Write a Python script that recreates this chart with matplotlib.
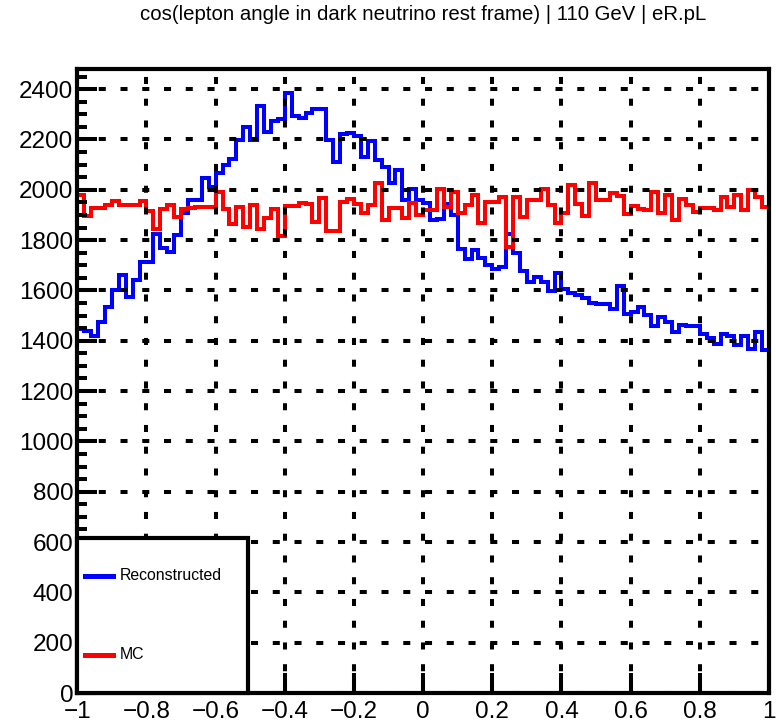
import matplotlib
matplotlib.use('Agg')
import matplotlib.pyplot as plt
import numpy as np
from matplotlib.ticker import MultipleLocator, FuncFormatter
from matplotlib.patches import Rectangle
from matplotlib.lines import Line2D

plt.rcParams['font.family'] = ['Liberation Sans', 'DejaVu Sans']

titulo = 'cos(lepton angle in dark neutrino rest frame) | 110 GeV | eR.pL'
etiquetas = ['Reconstructed', 'MC']

# 100 bins entre -1 y 1
bordes = np.linspace(-1, 1, 101)

reconstruido = [
    1445, 1440, 1420, 1476, 1536, 1602, 1661, 1575, 1642, 1714,
    1714, 1826, 1767, 1754, 1820, 1906, 1959, 1959, 2048, 2010,
    2068, 2098, 2124, 2197, 2250, 2197, 2332, 2230, 2273, 2280,
    2383, 2293, 2285, 2305, 2323, 2323, 2197, 2112, 2220, 2226,
    2213, 2131, 2193, 2117, 2090, 2028, 2078, 1959, 2005, 1959,
    1948, 1879, 1885, 1945, 1899, 1763, 1724, 1760, 1727, 1700,
    1687, 1694, 1826, 1750, 1678, 1634, 1654, 1634, 1598, 1670,
    1607, 1588, 1580, 1570, 1550, 1548, 1548, 1525, 1617, 1505,
    1515, 1535, 1502, 1460, 1495, 1475, 1436, 1462, 1458, 1458,
    1425, 1409, 1389, 1427, 1418, 1384, 1418, 1366, 1436, 1365,
]

mc = [
    1978, 1895, 1928, 1928, 1938, 1955, 1938, 1940, 1938, 1955,
    1915, 1843, 1925, 1940, 1890, 1922, 1928, 1930, 1930, 1930,
    1992, 1922, 1862, 1932, 1853, 1939, 1846, 1886, 1922, 1815,
    1935, 1935, 1946, 1945, 1870, 1967, 1838, 1838, 1950, 1962,
    1945, 1906, 1939, 2025, 1880, 1926, 1926, 1886, 1948, 1899,
    1919, 1919, 2005, 1932, 1992, 1906, 1939, 1979, 1866, 1952,
    1952, 1972, 1773, 1972, 1893, 1959, 1959, 2005, 1939, 1866,
    1909, 2019, 1945, 1895, 2025, 1959, 1959, 1988, 1975, 1903,
    1935, 1922, 1919, 1992, 1906, 1979, 1879, 1965, 1939, 1912,
    1926, 1926, 1919, 1972, 1932, 1979, 1919, 1999, 1972, 1932,
]

azul = '#0000ff'
rojo = '#ff0000'


def formato_eje(v, pos):
    return ('%g' % round(v, 2)).replace('-', '\u2212')


fig = plt.figure(figsize=(7.76, 7.23), dpi=100)
ax = fig.add_axes([77.3 / 776, 1 - 693 / 723, (769 - 77.3) / 776, (693 - 69) / 723])

ax.stairs(reconstruido, bordes, color=azul, linewidth=2.9, baseline=None, zorder=2)
ax.stairs(mc, bordes, color=rojo, linewidth=2.9, baseline=None, zorder=2.1)

ax.set_xlim(-1, 1)
ax.set_ylim(0, 2480)

ax.xaxis.set_major_locator(MultipleLocator(0.2))
ax.yaxis.set_major_locator(MultipleLocator(200))
ax.yaxis.set_minor_locator(MultipleLocator(50))
ax.xaxis.set_major_formatter(FuncFormatter(formato_eje))
ax.yaxis.set_major_formatter(FuncFormatter(formato_eje))

ax.tick_params(axis='both', which='both', direction='in', labelsize=17.5, width=2.9)
ax.tick_params(axis='y', which='major', length=14.5, pad=3)
ax.tick_params(axis='y', which='minor', length=7.2)
ax.tick_params(axis='x', which='major', length=14.5, pad=6)

for lado in ax.spines.values():
    lado.set_linewidth(3)

# rejilla de puntos gruesos
ax.set_axisbelow(False)
ax.grid(True, which='major', color='black', linewidth=2.9, linestyle=(0, (1.75, 3.65)))

# leyenda con caja propia
ax.add_patch(Rectangle((0, 0), 0.247, 0.248, transform=ax.transAxes,
                       facecolor='white', edgecolor='black', linewidth=3, zorder=5, clip_on=False))
for col, ypos, txt in [(azul, 0.1875, etiquetas[0]), (rojo, 0.061, etiquetas[1])]:
    ax.add_line(Line2D([0.011, 0.052], [ypos, ypos], transform=ax.transAxes,
                       color=col, linewidth=3.6, zorder=6))
    ax.text(0.062, ypos, txt, transform=ax.transAxes, fontsize=11.4,
            va='center', ha='left', zorder=6)

fig.text(423 / 776, 1 - 14 / 723, titulo, fontsize=14.7, ha='center', va='center')

fig.savefig('out.png', dpi=100)
